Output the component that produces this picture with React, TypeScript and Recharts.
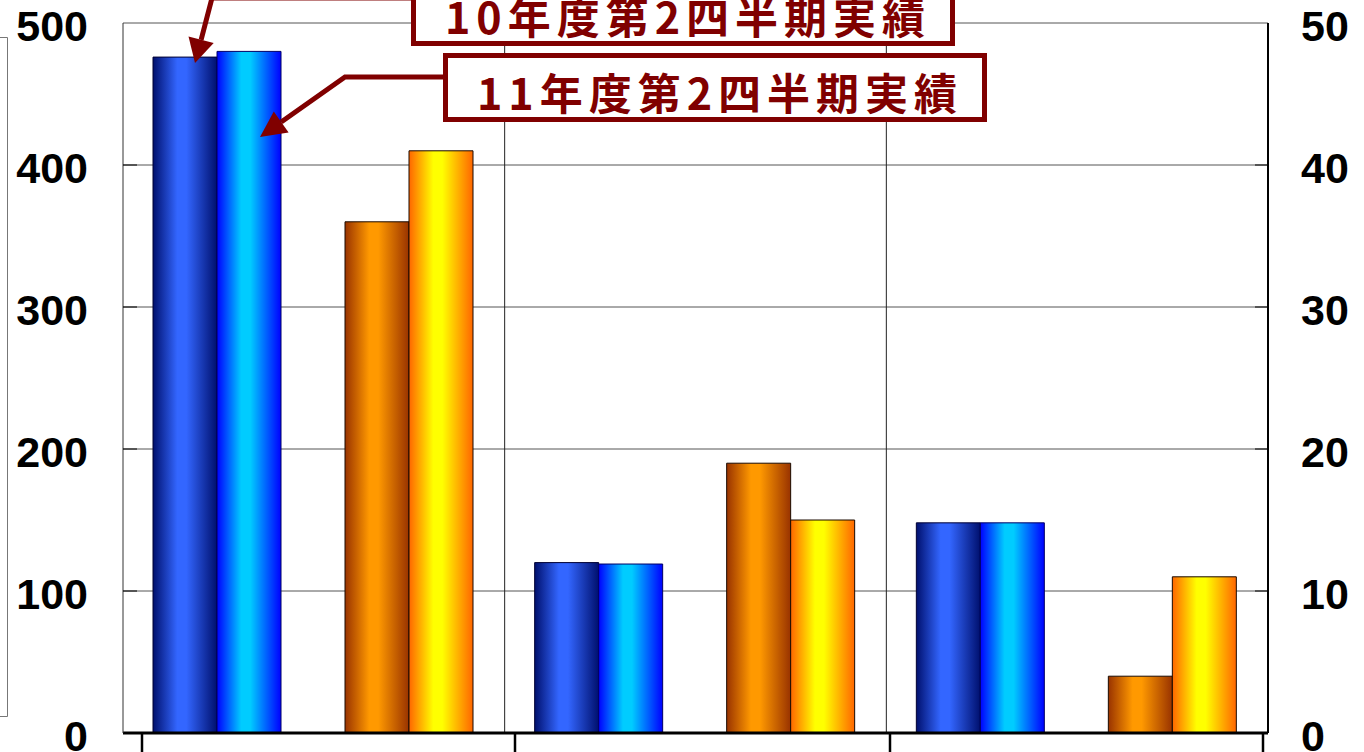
import React from 'react';
import { BarChart, Bar, XAxis, YAxis, CartesianGrid } from 'recharts';

const categories = ['区分A', '区分B', '区分C'];
const fy10Blue = [476, 120, 148];
const fy11Blue = [480, 119, 148];
const fy10Orange = [36, 19, 4];
const fy11Orange = [41, 15, 11];
const leftTicks = [0, 100, 200, 300, 400, 500];
const rightTicks = [0, 10, 20, 30, 40, 50];
const annotationLabels = ['10年度第2四半期実績', '11年度第2四半期実績'];

const data = categories.map((c, i) => ({
  cat: c,
  b10: fy10Blue[i],
  b11: fy11Blue[i],
  spacer: null,
  o10: fy10Orange[i],
  o11: fy11Orange[i],
}));

const NUM_FONT = '"Liberation Sans", Arial, sans-serif';
const JP_FONT = '"Noto Sans CJK JP", "Noto Sans CJK SC", sans-serif';
const RED = '#800000';

const LeftTick = (props: any) => {
  const { x, y, payload } = props;
  const v = payload.value;
  return (
    <g>
      <text x={x} y={y + 18} textAnchor="end" fontSize={43} fontWeight="bold" fontFamily={NUM_FONT} fill="#000">
        {v}
      </text>
      {v !== 0 && v !== 500 && <line x1={x + 35} x2={x + 49} y1={y} y2={y} stroke="#000" strokeWidth={1} />}
    </g>
  );
};

const RightTick = (props: any) => {
  const { x, y, payload } = props;
  const v = payload.value;
  return (
    <g>
      <text x={x} y={y + 18} textAnchor="start" fontSize={43} fontWeight="bold" fontFamily={NUM_FONT} fill="#000">
        {v}
      </text>
      {v !== 0 && v !== 50 && <line x1={x - 46} x2={x - 33} y1={y} y2={y} stroke="#000" strokeWidth={1} />}
    </g>
  );
};

const grad = (id: string, edge: string, center: string) => (
  <linearGradient id={id} x1="0" y1="0" x2="1" y2="0">
    <stop offset="0%" stopColor={edge} />
    <stop offset="38%" stopColor={center} />
    <stop offset="52%" stopColor={center} />
    <stop offset="100%" stopColor={edge} />
  </linearGradient>
);

const Annotation = ({ dx, dy, label }: { dx: number; dy: number; label: string }) => (
  <g transform={`translate(${dx},${dy})`}>
    <rect x={445.5} y={55.5} width={539} height={64} fill="#fff" stroke={RED} strokeWidth={5} />
    <text
      x={477}
      y={109.5}
      fontSize={43}
      fontWeight="bold"
      fontFamily={JP_FONT}
      fill={RED}
      textLength={480}
      lengthAdjust="spacing"
    >
      {label}
    </text>
  </g>
);

export default function App() {
  return (
    <div style={{ position: 'absolute', left: 0, top: 0, width: 1364, height: 752, overflow: 'hidden', background: '#fff' }}>
      <BarChart
        width={1364}
        height={752}
        data={data}
        margin={{ top: 23, right: 0, left: 0, bottom: 0 }}
        barCategoryGap={30}
        barGap={0}
      >
        <defs>
          {grad('gBlue1', '#00106e', '#3366ff')}
          {grad('gBlue2', '#0000ff', '#00ccff')}
          {grad('gOrange', '#993300', '#ff9900')}
          {grad('gYellow', '#ff6600', '#ffff00')}
        </defs>
        <CartesianGrid yAxisId="left" vertical={false} stroke="#555" strokeWidth={1} />
        <CartesianGrid
          yAxisId="left"
          horizontal={false}
          stroke="#222"
          strokeWidth={1}
          verticalCoordinatesGenerator={({ offset }: any) => [
            offset.left + offset.width / 3,
            offset.left + (2 * offset.width) / 3,
          ]}
        />
        <XAxis
          dataKey="cat"
          height={19}
          tick={false}
          tickLine={false}
          axisLine={{ stroke: '#000', strokeWidth: 3 }}
        />
        <YAxis
          yAxisId="left"
          orientation="left"
          width={123}
          domain={[0, 500]}
          ticks={leftTicks}
          interval={0}
          tickSize={0}
          tickMargin={35}
          tickLine={false}
          axisLine={{ stroke: '#333', strokeWidth: 1 }}
          tick={<LeftTick />}
        />
        <YAxis
          yAxisId="right"
          orientation="right"
          width={96}
          domain={[0, 50]}
          ticks={rightTicks}
          interval={0}
          tickSize={0}
          tickMargin={33}
          tickLine={false}
          axisLine={{ stroke: '#000', strokeWidth: 2 }}
          tick={<RightTick />}
        />
        <Bar yAxisId="left" dataKey="b10" fill="url(#gBlue1)" stroke="#000033" strokeWidth={1} isAnimationActive={false} />
        <Bar yAxisId="left" dataKey="b11" fill="url(#gBlue2)" stroke="#000066" strokeWidth={1} isAnimationActive={false} />
        <Bar yAxisId="left" dataKey="spacer" fill="none" isAnimationActive={false} />
        <Bar yAxisId="right" dataKey="o10" fill="url(#gOrange)" stroke="#1a0a00" strokeWidth={1} isAnimationActive={false} />
        <Bar yAxisId="right" dataKey="o11" fill="url(#gYellow)" stroke="#1a0a00" strokeWidth={1} isAnimationActive={false} />
      </BarChart>

      <svg width={1364} height={752} style={{ position: 'absolute', left: 0, top: 0, pointerEvents: 'none' }}>
        <path d="M0,37.5 H7.5 V716.5 H0" fill="none" stroke="#777" strokeWidth={1} />
        {[142, 515, 890, 1263].map((x) => (
          <line key={x} x1={x} x2={x} y1={734} y2={752} stroke="#000" strokeWidth={2.5} />
        ))}
        <Annotation dx={-32} dy={-76} label={annotationLabels[0]} />
        <Annotation dx={0} dy={0} label={annotationLabels[1]} />
        <polyline points="411,-2 212,-2 201.1,39.8" fill="none" stroke={RED} strokeWidth={5} strokeLinejoin="miter" />
        <polygon points="195,63 213.7,43.1 188.5,36.5" fill={RED} />
        <polyline points="443,77 345,77 281.2,122" fill="none" stroke={RED} strokeWidth={5} strokeLinejoin="miter" />
        <polygon points="260,137 288.6,132.5 273.8,111.5" fill={RED} />
      </svg>
    </div>
  );
}
